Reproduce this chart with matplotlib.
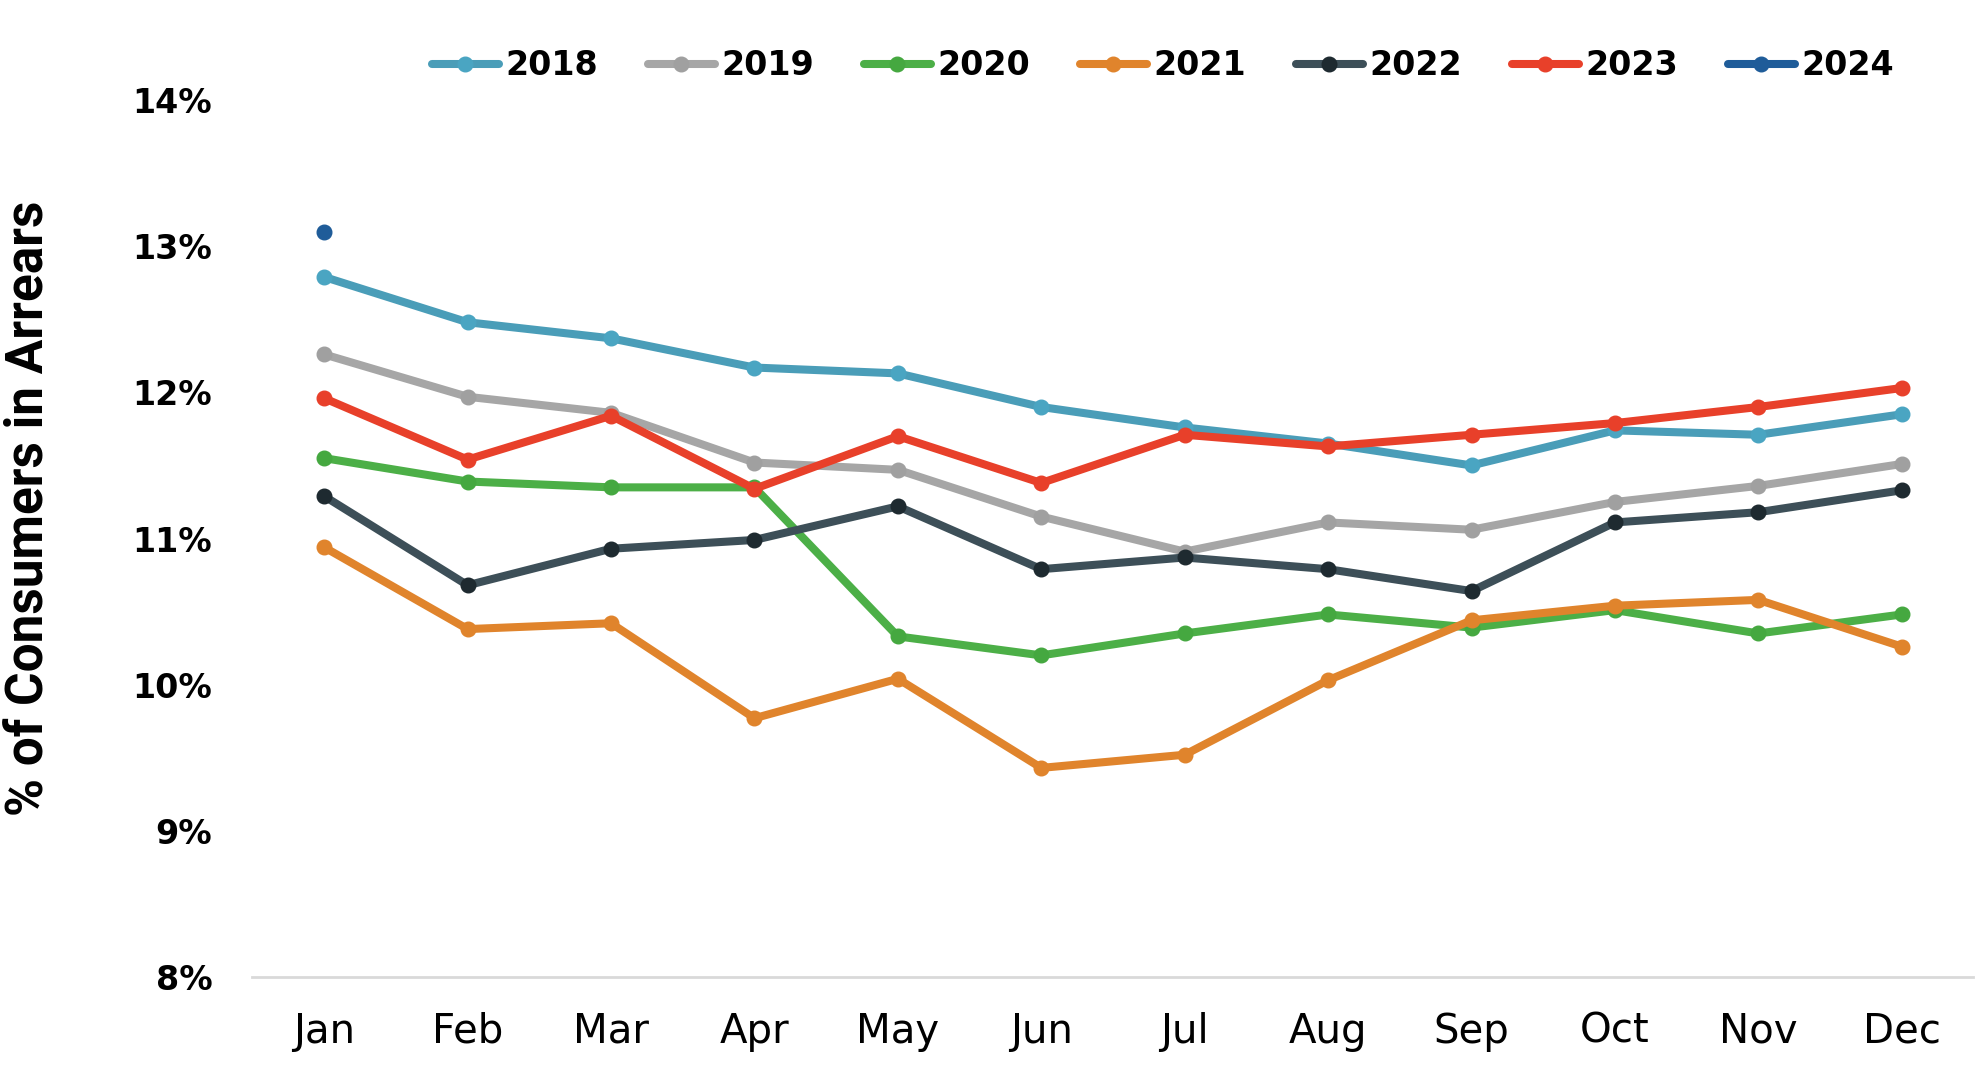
import matplotlib
matplotlib.use("Agg")
import matplotlib.pyplot as plt
import numpy as np

months = ["Jan", "Feb", "Mar", "Apr", "May", "Jun", "Jul", "Aug", "Sep", "Oct", "Nov", "Dec"]

y2018 = [12.79, 12.48, 12.37, 12.17, 12.13, 11.90, 11.76, 11.65, 11.50, 11.74, 11.71, 11.85]
y2019 = [12.26, 11.97, 11.86, 11.52, 11.47, 11.15, 10.91, 11.11, 11.06, 11.25, 11.36, 11.51]
y2020 = [11.55, 11.39, 11.35, 11.35, 10.33, 10.20, 10.35, 10.48, 10.39, 10.51, 10.35, 10.48]
y2021 = [10.94, 10.38, 10.42, 9.77, 10.04, 9.43, 9.52, 10.03, 10.44, 10.54, 10.58, 10.26]
y2022 = [11.29, 10.68, 10.93, 10.99, 11.22, 10.79, 10.87, 10.79, 10.64, 11.11, 11.18, 11.33]
y2023 = [11.96, 11.54, 11.84, 11.34, 11.70, 11.38, 11.71, 11.63, 11.71, 11.79, 11.90, 12.03]
y2024 = [13.10]

series = [
    ("2018", y2018, "#4a9db8", "#4aa5c2"),
    ("2019", y2019, "#a6a6a6", "#a0a0a0"),
    ("2020", y2020, "#4caf47", "#45a840"),
    ("2021", y2021, "#e0842c", "#e0842c"),
    ("2022", y2022, "#3d4f58", "#1e2a30"),
    ("2023", y2023, "#e8402a", "#e8402a"),
    ("2024", y2024, "#1f5c99", "#1f5c99"),
]

fig = plt.figure(figsize=(19.88, 10.77), dpi=100)
ax = fig.add_axes([0.127, 0.093, 0.8657, 0.814])

x = np.arange(len(months))
for name, vals, col, mcol in series:
    ax.plot(x[:len(vals)], vals, color=col, lw=5.8, marker="o", ms=10.5,
            mfc=mcol, mec=mcol, label=name, solid_capstyle="round")

ax.set_xlim(-0.5, 11.5)
ax.set_ylim(8, 14)
ax.set_xticks(x)
ax.set_xticklabels(months, fontsize=29, family="DejaVu Sans")
ax.set_yticks(np.arange(8, 15))
ax.set_yticklabels([f"{v}%" for v in range(8, 15)], fontsize=24,
                   fontweight="bold", family="DejaVu Sans")
ax.tick_params(axis="both", length=0)
ax.tick_params(axis="x", pad=25)
ax.tick_params(axis="y", pad=29)

for s in ["top", "right", "left"]:
    ax.spines[s].set_visible(False)
ax.spines["bottom"].set_color("#d9d9d9")
ax.spines["bottom"].set_linewidth(2)

fig.text(0.015, 0.528, "% of Consumers in Arrears", rotation=90, ha="center",
         va="center", fontsize=37, fontweight="bold", family="Roboto")

leg = fig.legend(loc="center", bbox_to_anchor=(0.585, 0.939), ncol=7, frameon=False,
                 handlelength=2.0, handletextpad=0.2, columnspacing=1.5,
                 prop={"weight": "bold", "size": 24, "family": "DejaVu Sans"})

fig.savefig("out.png", dpi=100)
